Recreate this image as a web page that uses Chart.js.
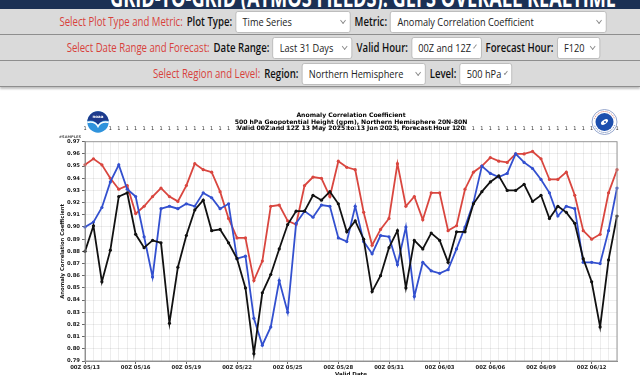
<!DOCTYPE html>
<html>
<head>
<meta charset="utf-8">
<script src="https://cdn.jsdelivr.net/npm/chart.js@4.4.1/dist/chart.umd.min.js"></script>
<style>
html, body { margin: 0; padding: 0; width: 640px; height: 375px; overflow: hidden; background: #fff; font-family: "Open Sans", sans-serif; }
#topbar { height: 9px; background: #1b3054; overflow: hidden; position: relative; }
#topbar span { position: absolute; left: 0; right: 0; top: -21px; text-align: center; color: #fff; font: bold 26px "Open Sans"; white-space: nowrap; transform: scaleX(.7); padding-left: 20px; }
.row { height: 25px; background: #dadada; border-bottom: 1px solid #8e8e8e; display: flex; align-items: center; justify-content: center; padding-left: 26px; }
.row.last { box-shadow: 0 2px 2px rgba(0,0,0,0.25); }
.inner { display: flex; align-items: center; transform: scaleX(.8); white-space: nowrap; font-size: 12px; }
.red { color: #d8413a; margin-right: 3px; }
.lab { font-weight: 600; color: #111; margin: 0 4px 0 2px; }
.sel { background: #fff; border: 1px solid #b8b8b8; border-radius: 3px; height: 22px; box-sizing: border-box; padding: 0 6px 0 8px; display: flex; align-items: center; justify-content: space-between; color: #222; font-size: 11.5px; }
.sel i { width: 4px; height: 4px; border-right: 1px solid #888; border-bottom: 1px solid #888; transform: rotate(45deg); margin-left: 5px; margin-top: -3px; }
#wrap { position: absolute; left: 0; top: 95px; width: 640px; height: 300px; }
</style>
</head>
<body>
<div id="topbar"><span>GRID-TO-GRID (ATMOS FIELDS): GEFS OVERALL REALTIME</span></div>
<div class="row"><div class="inner">
  <span class="red">Select Plot Type and Metric:</span><span class="lab">Plot Type:</span>
  <div class="sel" style="width:144px">Time Series<i></i></div>
  <span class="lab">&nbsp;Metric:</span>
  <div class="sel" style="width:271px">Anomaly Correlation Coefficient<i></i></div>
</div></div>
<div class="row"><div class="inner">
  <span class="red">Select Date Range and Forecast:</span><span class="lab">Date Range:</span>
  <div class="sel" style="width:100px">Last 31 Days<i></i></div>
  <span class="lab">&nbsp;Valid Hour:</span>
  <div class="sel" style="width:88px">00Z and 12Z<i></i></div>
  <span class="lab">&nbsp;Forecast Hour:</span>
  <div class="sel" style="width:54px">F120<i></i></div>
</div></div>
<div class="row last"><div class="inner">
  <span class="red">Select Region and Level:</span><span class="lab">Region:</span>
  <div class="sel" style="width:155px">Northern Hemisphere<i></i></div>
  <span class="lab">&nbsp;Level:</span>
  <div class="sel" style="width:66px">500 hPa<i></i></div>
</div></div>

<div id="wrap"><canvas id="acc" width="640" height="300"></canvas></div>

<script>
// valid times, every 12h
const validTimes = [
  '00Z 05/13','12Z 05/13','00Z 05/14','12Z 05/14','00Z 05/15','12Z 05/15','00Z 05/16','12Z 05/16',
  '00Z 05/17','12Z 05/17','00Z 05/18','12Z 05/18','00Z 05/19','12Z 05/19','00Z 05/20','12Z 05/20',
  '00Z 05/21','12Z 05/21','00Z 05/22','12Z 05/22','00Z 05/23','12Z 05/23','00Z 05/24','12Z 05/24',
  '00Z 05/25','12Z 05/25','00Z 05/26','12Z 05/26','00Z 05/27','12Z 05/27','00Z 05/28','12Z 05/28',
  '00Z 05/29','12Z 05/29','00Z 05/30','12Z 05/30','00Z 05/31','12Z 05/31','00Z 06/01','12Z 06/01',
  '00Z 06/02','12Z 06/02','00Z 06/03','12Z 06/03','00Z 06/04','12Z 06/04','00Z 06/05','12Z 06/05',
  '00Z 06/06','12Z 06/06','00Z 06/07','12Z 06/07','00Z 06/08','12Z 06/08','00Z 06/09','12Z 06/09',
  '00Z 06/10','12Z 06/10','00Z 06/11','12Z 06/11','00Z 06/12','12Z 06/12','00Z 06/13','12Z 06/13'
];

// number of samples shown along the top
const sampleCounts = [
  1,1,1,1,1,1,1,1,1,1,1,1,1,1,1,1,1,1,1,1,1,1,1,1,1,1,1,1,1,1,1,1,
  1,1,1,1,1,1,1,1,1,1,1,1,1,1,1,1,1,1,1,1,1,1,1,1,1,1,1,1,1,1,1,1
];

const accBlack = [
  0.880,0.901,0.855,0.881,0.925,0.928,0.894,0.883,0.889,0.887,0.821,0.867,0.893,0.914,0.922,0.897,
  0.898,0.887,0.874,0.850,0.796,0.846,0.861,0.882,0.902,0.913,0.913,0.926,0.922,0.929,0.919,0.896,
  0.905,0.890,0.847,0.860,0.883,0.897,0.850,0.889,0.882,0.895,0.889,0.871,0.896,0.896,0.919,0.929,
  0.937,0.942,0.930,0.930,0.935,0.921,0.926,0.907,0.917,0.912,0.903,0.874,0.855,0.818,0.873,0.909
];

const accBlue = [
  0.900,0.904,0.916,0.937,0.951,0.931,0.925,0.892,0.859,0.915,0.917,0.915,0.919,0.917,0.928,0.924,
  0.915,0.919,0.874,0.876,0.825,0.803,0.818,0.856,0.830,0.903,0.913,0.908,0.918,0.917,0.891,0.888,
  0.917,0.888,0.878,0.893,0.892,0.869,0.900,0.843,0.871,0.864,0.862,0.865,0.882,0.900,0.920,0.950,
  0.944,0.941,0.944,0.960,0.953,0.948,0.939,0.928,0.909,0.917,0.915,0.871,0.871,0.870,0.897,0.932
];

const accRed = [
  0.951,0.956,0.951,0.940,0.931,0.934,0.911,0.917,0.925,0.932,0.925,0.921,0.934,0.952,0.947,0.945,
  0.929,0.907,0.891,0.891,0.856,0.872,0.917,0.918,0.905,0.902,0.934,0.941,0.940,0.925,0.954,0.949,
  0.947,0.912,0.885,0.898,0.907,0.952,0.917,0.925,0.906,0.928,0.928,0.897,0.901,0.931,0.945,0.950,
  0.957,0.954,0.953,0.960,0.960,0.962,0.956,0.939,0.939,0.945,0.926,0.897,0.890,0.894,0.928,0.947
];

const titleLines = [
  'Anomaly Correlation Coefficient',
  '500 hPa Geopotential Height (gpm), Northern Hemisphere 20N-80N',
  'Valid 00Z and 12Z 13 May 2025 to 13 Jun 2025, Forecast Hour 120'
];

const axisFont = { family: 'DejaVu Sans', size: 5.3, weight: 'bold' };

function drawNoaa(ctx, x, y, r) {
  ctx.save();
  ctx.beginPath(); ctx.arc(x, y, r, 0, Math.PI * 2); ctx.fillStyle = '#fff'; ctx.fill();
  ctx.beginPath(); ctx.arc(x, y, r - 0.8, 0, Math.PI * 2); ctx.clip();
  ctx.fillStyle = '#2f93dc'; ctx.fillRect(x - r, y - r, r * 2, r * 2);
  ctx.fillStyle = '#1d3a8c';
  ctx.beginPath();
  ctx.moveTo(x - r, y - r); ctx.lineTo(x + r, y - r); ctx.lineTo(x + r, y - 1);
  ctx.quadraticCurveTo(x + 3, y - 3, x, y + 3);
  ctx.quadraticCurveTo(x - 3, y - 3, x - r, y - 1);
  ctx.closePath(); ctx.fill();
  ctx.strokeStyle = '#fff'; ctx.lineWidth = 1.6;
  ctx.beginPath();
  ctx.moveTo(x - r, y + 0.5); ctx.quadraticCurveTo(x - 3, y - 1.5, x, y + 4.5);
  ctx.quadraticCurveTo(x + 3, y - 1.5, x + r, y + 0.5); ctx.stroke();
  ctx.fillStyle = '#fff'; ctx.font = 'bold 4px "DejaVu Sans"'; ctx.textAlign = 'center'; ctx.textBaseline = 'middle';
  ctx.fillText('noaa', x, y - 5);
  ctx.restore();
}

function drawNws(ctx, x, y, r) {
  ctx.save();
  ctx.beginPath(); ctx.arc(x, y, r, 0, Math.PI * 2); ctx.fillStyle = '#fff'; ctx.fill();
  ctx.lineWidth = 0.8; ctx.strokeStyle = '#7a8fc0'; ctx.stroke();
  ctx.setLineDash([1, 1]); ctx.strokeStyle = '#c0504d';
  ctx.beginPath(); ctx.arc(x, y, r - 2, Math.PI * 1.1, Math.PI * 1.9); ctx.stroke();
  ctx.strokeStyle = '#34559c';
  ctx.beginPath(); ctx.arc(x, y, r - 2, Math.PI * 0.1, Math.PI * 0.9); ctx.stroke();
  ctx.setLineDash([]);
  ctx.beginPath(); ctx.arc(x, y, r - 3.5, 0, Math.PI * 2); ctx.fillStyle = '#1d4fae'; ctx.fill();
  ctx.fillStyle = '#fff';
  ctx.beginPath(); ctx.ellipse(x, y, 4, 2, -0.6, 0, Math.PI * 2); ctx.fill();
  ctx.fillStyle = '#1d4fae';
  ctx.beginPath(); ctx.arc(x + 0.5, y, 1, 0, Math.PI * 2); ctx.fill();
  ctx.restore();
}

const decor = {
  id: 'decor',
  beforeDraw(c) {
    const ctx = c.ctx;
    ctx.save(); ctx.fillStyle = '#fff'; ctx.fillRect(0, 0, c.width, c.height); ctx.restore();
  },
  afterDraw(c) {
    const { ctx, chartArea: a } = c;
    ctx.save();
    ctx.strokeStyle = '#9a9a9a'; ctx.lineWidth = 1;
    ctx.strokeRect(a.left, a.top, a.right - a.left, a.bottom - a.top);
    ctx.font = 'bold 3.6px "DejaVu Sans"'; ctx.fillStyle = '#555'; ctx.textAlign = 'right'; ctx.textBaseline = 'middle';
    ctx.fillText('#SAMPLES', a.left - 4, a.top - 5);
    ctx.restore();
    drawNoaa(ctx, a.left + 13, 27, 11.5);
    drawNws(ctx, a.right - 12.5, 27, 12.5);
  }
};

new Chart(document.getElementById('acc'), {
  type: 'line',
  data: {
    labels: validTimes,
    datasets: [
      { label: 'Model 1', data: accBlack, borderColor: '#111111', backgroundColor: '#111111' },
      { label: 'Model 2', data: accBlue, borderColor: '#3350cf', backgroundColor: '#3350cf' },
      { label: 'Model 3', data: accRed, borderColor: '#d9463f', backgroundColor: '#d9463f' }
    ]
  },
  options: {
    responsive: false,
    animation: false,
    devicePixelRatio: 1,
    layout: { padding: { left: 0, right: 23, top: 0, bottom: 0 } },
    elements: {
      line: { borderWidth: 1.8, tension: 0 },
      point: { radius: 1.6, borderWidth: 0 }
    },
    plugins: { legend: { display: false }, title: { display: false }, tooltip: { enabled: false } },
    scales: {
      x: {
        type: 'category',
        position: 'bottom',
        offset: false,
        grid: {
          color: 'rgba(0,0,0,0.07)',
          tickLength: 3,
          tickColor: ctx => (ctx.index % 6 === 0 ? '#666' : 'rgba(0,0,0,0)')
        },
        border: { color: '#888' },
        ticks: {
          autoSkip: false, maxRotation: 0, padding: 0,
          font: axisFont, color: '#222',
          callback: (v, i) => (i % 6 === 0 ? validTimes[i] : '')
        },
        title: { display: true, text: 'Valid Date', font: { family: 'DejaVu Sans', size: 5.5, weight: 'bold' }, color: '#111', padding: { top: 0, bottom: 17 } },
        afterFit: s => { s.height = 34; }
      },
      x2: {
        type: 'category',
        position: 'top',
        labels: sampleCounts.map(String),
        offset: false,
        grid: { display: false },
        border: { display: false },
        ticks: { autoSkip: false, maxRotation: 0, padding: 2, font: { family: 'DejaVu Sans', size: 5 }, color: '#333' },
        title: { display: true, text: titleLines, font: { family: 'DejaVu Sans', size: 6.1, weight: 'bold', lineHeight: 1.07 }, color: '#000', padding: { top: 17.3, bottom: 0 } },
        afterFit: s => { s.height = 46.7; }
      },
      y: {
        min: 0.79,
        max: 0.97,
        grid: { color: 'rgba(0,0,0,0.07)', tickLength: 3, tickColor: '#666' },
        border: { color: '#888' },
        ticks: { stepSize: 0.01, padding: 2, font: axisFont, color: '#222', callback: v => Number(v).toFixed(2) },
        title: { display: true, text: 'Anomaly Correlation Coefficient', font: { family: 'DejaVu Sans', size: 5.3, weight: 'bold' }, color: '#111', padding: { top: 59, bottom: 0 } },
        afterFit: s => { s.width = 85; }
      }
    }
  },
  plugins: [decor]
});
</script>
</body>
</html>
